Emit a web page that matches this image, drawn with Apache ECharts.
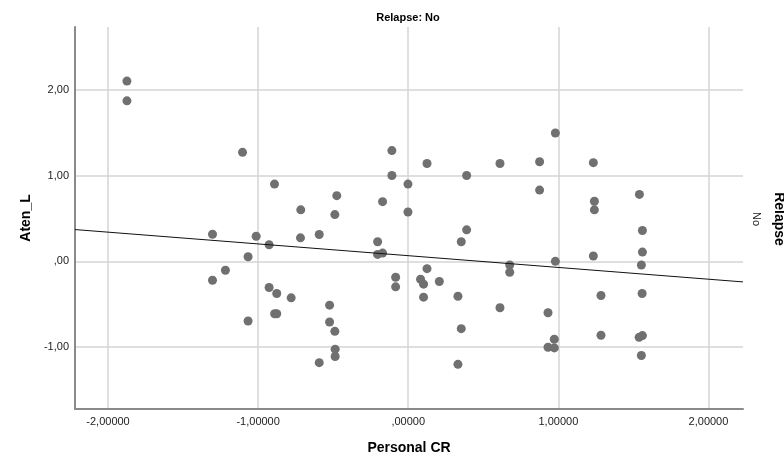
<!DOCTYPE html>
<html lang="en">
<head>
    <meta charset="UTF-8">
    <title>Relapse: No</title>
    <script src="https://cdn.jsdelivr.net/npm/echarts@6.0.0/dist/echarts.min.js"></script>
    <style>
        html, body { margin: 0; padding: 0; background: #fff; }
        #chart { width: 784px; height: 460px; }
    </style>
</head>
<body>
    <div id="chart"></div>

    <script>
        // Personal CR (x) and Aten_L (y)
        const personalCR = [
            -1.874, -1.874, -1.104, -0.891, -0.716, -0.476, -0.489, -0.171, -0.109, -0.109,
            -0.002, -0.002, 0.125, 0.389, 0.611, 0.875, 0.875, 0.980, 1.233, 1.240,
            1.240, 1.540, 0.389, 1.560, -1.304, -1.013, -0.927, -0.718, -0.593, -0.204,
            -0.204, -0.171, -1.067, -1.218, -1.304, -0.927, -0.876, -0.780, -0.890, -0.876,
            -1.067, -0.524, -0.524, -0.489, -0.487, -0.487, -0.593, -0.084, -0.084, 0.353,
            0.125, 0.082, 0.102, 0.102, 0.207, 0.331, 0.353, 0.331, 0.611, 0.676,
            0.676, 0.980, 0.931, 0.973, 0.931, 0.973, 1.233, 1.284, 1.284, 1.560,
            1.553, 1.558, 1.538, 1.560, 1.553
        ];
        const atenL = [
            2.10, 1.87, 1.27, 0.90, 0.60, 0.765, 0.545, 0.695, 1.29, 1.00,
            0.90, 0.575, 1.14, 1.00, 1.14, 1.16, 0.83, 1.495, 1.15, 0.70,
            0.60, 0.78, 0.367, 0.36, 0.316, 0.293, 0.193, 0.274, 0.313, 0.228,
            0.081, 0.096, 0.054, -0.104, -0.22, -0.305, -0.375, -0.425, -0.61, -0.61,
            -0.695, -0.51, -0.707, -0.815, -1.023, -1.108, -1.18, -0.185, -0.297, 0.228,
            -0.085, -0.209, -0.266, -0.417, -0.235, -0.406, -0.784, -1.20, -0.541, -0.042,
            -0.127, 0.00, -0.599, -0.908, -1.00, -1.008, 0.062, -0.398, -0.861, 0.108,
            -0.042, -0.375, -0.885, -0.865, -1.097
        ];

        // fit line (as drawn in the picture)
        const fitIntercept = 0.066;
        const fitSlope = -0.137;

        const xTicks = [-2, -1, 0, 1, 2];
        const yTicks = [-1, 0, 1, 2];
        const xRange = [-2.22, 2.23];
        const yRange = [-1.72, 2.73];

        // SPSS style numbers: comma decimal, no leading zero
        function spssFmt(v, digits) {
            let s = Math.abs(v).toFixed(digits).replace('.', ',');
            if (s.startsWith('0,')) s = s.substring(1);
            return (v < 0 ? '-' : '') + s;
        }

        const points = personalCR.map((x, i) => [x, atenL[i]]);
        const fitLine = xRange.map(x => [x, fitIntercept + fitSlope * x]);

        const chart = echarts.init(document.getElementById('chart'));
        const font = 'Liberation Sans, Arial, sans-serif';

        const option = {
            animation: false,
            title: {
                text: 'Relapse: No',
                left: 403,
                textAlign: 'center',
                top: 7,
                textStyle: { fontFamily: font, fontSize: 11, fontWeight: 'bold', color: '#000' }
            },
            grid: { left: 75, right: 41, top: 27, bottom: 49 },
            xAxis: {
                type: 'value',
                min: xRange[0],
                max: xRange[1],
                name: 'Personal CR',
                nameLocation: 'middle',
                nameGap: 32,
                nameTextStyle: { fontFamily: font, fontSize: 14, fontWeight: 'bold', color: '#000' },
                axisLine: { show: true, onZero: false, lineStyle: { color: '#8a8a8a', width: 2 } },
                axisTick: { show: false, customValues: xTicks },
                axisLabel: {
                    customValues: xTicks,
                    margin: 7,
                    fontFamily: font,
                    fontSize: 11,
                    color: '#222',
                    formatter: v => spssFmt(v, 5)
                },
                splitLine: { show: true, lineStyle: { color: '#d4d4d4', width: 1.5 } }
            },
            yAxis: {
                type: 'value',
                min: yRange[0],
                max: yRange[1],
                name: 'Aten_L',
                nameLocation: 'middle',
                nameGap: 41,
                nameTextStyle: { fontFamily: font, fontSize: 14, fontWeight: 'bold', color: '#000' },
                axisLine: { show: true, onZero: false, lineStyle: { color: '#8a8a8a', width: 2 } },
                axisTick: { show: false, customValues: yTicks },
                axisLabel: {
                    customValues: yTicks,
                    margin: 6,
                    fontFamily: font,
                    fontSize: 11,
                    color: '#222',
                    formatter: v => spssFmt(v, 2)
                },
                splitLine: { show: true, lineStyle: { color: '#d4d4d4', width: 1.5 } }
            },
            graphic: [
                {
                    type: 'text',
                    x: 779,
                    y: 219,
                    rotation: -Math.PI / 2,
                    style: {
                        text: 'Relapse',
                        font: 'bold 14px Liberation Sans, Arial, sans-serif',
                        fill: '#000',
                        align: 'center',
                        verticalAlign: 'middle'
                    }
                },
                {
                    type: 'text',
                    x: 756,
                    y: 219,
                    rotation: -Math.PI / 2,
                    style: {
                        text: 'No',
                        font: '11px Liberation Sans, Arial, sans-serif',
                        fill: '#222',
                        align: 'center',
                        verticalAlign: 'middle'
                    }
                }
            ],
            series: [
                {
                    type: 'scatter',
                    data: points,
                    symbolSize: 9,
                    itemStyle: { color: '#707070', opacity: 1 },
                    z: 3
                },
                {
                    type: 'line',
                    data: fitLine,
                    symbol: 'none',
                    lineStyle: { color: '#111', width: 1 },
                    z: 4
                }
            ]
        };
        chart.setOption(option);
    </script>
</body>
</html>
